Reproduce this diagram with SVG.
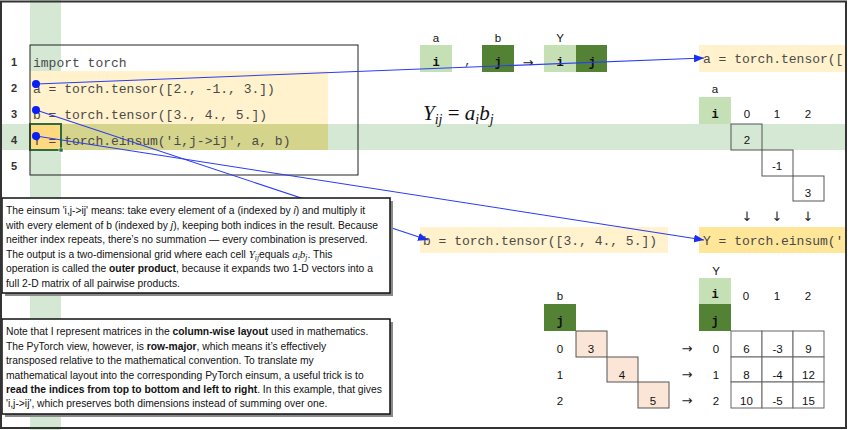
<svg xmlns="http://www.w3.org/2000/svg" width="848" height="430" viewBox="0 0 848 430">
<style>
.code{font-family:"Liberation Mono",monospace;font-size:13px;fill:#4a4a4a}
.ln{font-family:"Liberation Sans",Arial,sans-serif;font-size:11px;font-weight:bold;fill:#333;text-anchor:middle}
.lbl{font-family:"Liberation Sans",Arial,sans-serif;font-size:11.5px;fill:#111;text-anchor:middle}
.ar{font-family:"DejaVu Sans",sans-serif;font-size:13px;fill:#222;text-anchor:middle}
.dn{opacity:0.99}
.idx{font-family:"Liberation Mono",monospace;font-size:12px;font-weight:bold;fill:#111;text-anchor:middle}
.cell{fill:#fff;stroke:#666;stroke-width:1}
.peach{fill:#FBE5D6;stroke:#555;stroke-width:1}
.lg{fill:#C5E0B4}
.dg{fill:#548235}
.tb{font-family:"Liberation Sans",Arial,sans-serif;font-size:10.3px;fill:#111}
.b{font-weight:bold}
.it{font-style:italic}
.m{font-family:"Liberation Serif",serif;font-style:italic;font-size:11px}
.ms{font-family:"Liberation Serif",serif;font-style:italic;font-size:7.5px}
.conn{stroke:#2a3cf5;stroke-width:1.1;fill:none}
.box{fill:#fff;stroke:#111;stroke-width:1.5}
.shadow{fill:#8a8a8a}
</style>
<defs>
<marker id="arr" markerUnits="userSpaceOnUse" markerWidth="10" markerHeight="8" refX="10" refY="4" orient="auto">
<path d="M0,0 L10,4 L0,8 z" fill="#1a2ff0"/>
</marker>
</defs>
<rect x="0" y="0" width="848" height="430" fill="#fff"/>
<g id="bands">
<rect x="30" y="0" width="31" height="430" fill="#D5E8D4"/>
<rect x="0" y="124" width="846" height="26" fill="#D5E8D4"/>
</g>
<g id="code">
<rect x="30" y="71" width="298" height="53" fill="#FFF2CC"/>
<rect x="30" y="124" width="298" height="26" fill="#D5D48C"/>
<rect x="30" y="124" width="31" height="26" fill="#FFD97F" stroke="#2E6B3E" stroke-width="2"/>
<rect x="59" y="148" width="4" height="4" fill="#2E6B3E" stroke="#fff" stroke-width="0.6"/>
<rect x="30" y="45" width="328" height="130" fill="none" stroke="#222" stroke-width="1"/>
<text class="ln" x="14" y="66">1</text>
<text class="ln" x="14" y="92">2</text>
<text class="ln" x="14" y="118">3</text>
<text class="ln" x="14" y="144">4</text>
<text class="ln" x="14" y="170">5</text>
<text class="code" x="33" y="66.5">import torch</text>
<text class="code" x="33" y="92.5">a = torch.tensor([2., -1., 3.])</text>
<text class="code" x="33" y="118.5">b = torch.tensor([3., 4., 5.])</text>
<text class="code" x="33" y="144.5">Y = torch.einsum('i,j-&gt;ij', a, b)</text>
</g>
<g id="signature">
<text class="lbl" x="436" y="42">a</text>
<rect class="lg" x="420" y="45" width="32" height="27"/>
<text class="idx" x="436" y="66">i</text>
<text class="code" x="464" y="65" fill="#111">,</text>
<text class="lbl" x="498" y="42">b</text>
<rect class="dg" x="482" y="45" width="32" height="27"/>
<text class="idx" x="498" y="66">j</text>
<text class="ar" x="528" y="67">→</text>
<text class="lbl" x="560" y="42">Y</text>
<rect class="lg" x="544" y="45" width="32" height="27"/>
<rect class="dg" x="576" y="45" width="31" height="27"/>
<text class="idx" x="560" y="66">i</text>
<text class="idx" x="592" y="66">j</text>
</g>
<g id="formula">
<text x="423" y="120" font-family="Liberation Serif,serif" font-size="21" fill="#111"><tspan font-style="italic">Y</tspan><tspan font-style="italic" font-size="14" dy="4">ij</tspan><tspan dy="-4"> = </tspan><tspan font-style="italic">a</tspan><tspan font-style="italic" font-size="14" dy="4">i</tspan><tspan font-style="italic" dy="-4">b</tspan><tspan font-style="italic" font-size="14" dy="4">j</tspan></text>
</g>
<g id="snippet-a">
<rect x="699" y="45" width="147" height="27" fill="#FFF2CC"/>
<text class="code" x="703" y="63">a = torch.tensor([</text>
</g>
<g id="snippet-b">
<rect x="420" y="227" width="248" height="26" fill="#FFF2CC"/>
<text class="code" x="423" y="245">b = torch.tensor([3., 4., 5.])</text>
</g>
<g id="snippet-y">
<rect x="699" y="227" width="147" height="26" fill="#FFE699"/>
<text class="code" x="703" y="245">Y = torch.einsum('</text>
</g>
<g id="grid-a">
<text class="lbl" x="715" y="93">a</text>
<rect class="lg" x="699" y="97" width="32" height="27"/>
<text class="idx" x="715" y="118">i</text>
<text class="lbl" x="747" y="118">0</text>
<text class="lbl" x="777" y="118">1</text>
<text class="lbl" x="808" y="118">2</text>
<rect x="731" y="124" width="31" height="26" fill="none" stroke="#555"/>
<rect x="762" y="150" width="31" height="26" fill="none" stroke="#555"/>
<rect x="793" y="176" width="31" height="25" fill="none" stroke="#555"/>
<text class="lbl" x="747" y="144">2</text>
<text class="lbl" x="777" y="170">-1</text>
<text class="lbl" x="808" y="197">3</text>
<g class="dn">
<text class="ar" x="747" y="221">↓</text>
<text class="ar" x="777" y="221">↓</text>
<text class="ar" x="808" y="221">↓</text>
</g>
</g>
<g id="grid-b">
<text class="lbl" x="560" y="300">b</text>
<rect class="dg" x="544" y="304" width="32" height="27"/>
<text class="idx" x="560" y="325">j</text>
<text class="lbl" x="560" y="353">0</text>
<text class="lbl" x="560" y="379">1</text>
<text class="lbl" x="560" y="405">2</text>
<rect class="peach" x="576" y="331" width="31" height="26"/>
<rect class="peach" x="607" y="357" width="31" height="25"/>
<rect class="peach" x="638" y="382" width="31" height="26"/>
<text class="lbl" x="591" y="353">3</text>
<text class="lbl" x="622" y="379">4</text>
<text class="lbl" x="653" y="405">5</text>
<text class="ar" x="687" y="353">→</text>
<text class="ar" x="687" y="379">→</text>
<text class="ar" x="687" y="405">→</text>
</g>
<g id="grid-y">
<text class="lbl" x="716" y="275">Y</text>
<rect class="lg" x="699" y="278" width="32" height="26"/>
<rect class="dg" x="699" y="304" width="32" height="27"/>
<text class="idx" x="715" y="298">i</text>
<text class="idx" x="715" y="325">j</text>
<text class="lbl" x="746" y="300">0</text>
<text class="lbl" x="777" y="300">1</text>
<text class="lbl" x="808" y="300">2</text>
<text class="lbl" x="716" y="353">0</text>
<text class="lbl" x="716" y="379">1</text>
<text class="lbl" x="716" y="405">2</text>
<rect class="cell" x="731" y="331" width="31" height="26"/>
<rect class="cell" x="762" y="331" width="31" height="26"/>
<rect class="cell" x="793" y="331" width="31" height="26"/>
<rect class="cell" x="731" y="357" width="31" height="25"/>
<rect class="cell" x="762" y="357" width="31" height="25"/>
<rect class="cell" x="793" y="357" width="31" height="25"/>
<rect class="cell" x="731" y="382" width="31" height="26"/>
<rect class="cell" x="762" y="382" width="31" height="26"/>
<rect class="cell" x="793" y="382" width="31" height="26"/>
<text class="lbl" x="746.5" y="353">6</text>
<text class="lbl" x="777.5" y="353">-3</text>
<text class="lbl" x="808.5" y="353">9</text>
<text class="lbl" x="746.5" y="379">8</text>
<text class="lbl" x="777.5" y="379">-4</text>
<text class="lbl" x="808.5" y="379">12</text>
<text class="lbl" x="746.5" y="405">10</text>
<text class="lbl" x="777.5" y="405">-5</text>
<text class="lbl" x="808.5" y="405">15</text>
</g>
<g id="connectors">
<line class="conn" x1="36" y1="84" x2="704" y2="58" marker-end="url(#arr)"/>
<line class="conn" x1="36" y1="110" x2="428" y2="240" marker-end="url(#arr)"/>
<line class="conn" x1="36" y1="136" x2="704" y2="240" marker-end="url(#arr)"/>
<circle cx="36" cy="84" r="4" fill="#0a1ff5"/>
<circle cx="36" cy="110" r="4" fill="#0a1ff5"/>
<circle cx="36" cy="136" r="4" fill="#0a1ff5"/>
</g>
<g id="note-einsum">
<rect class="shadow" x="5" y="201" width="388" height="95"/>
<rect class="box" x="2" y="198" width="388" height="95"/>
<text class="tb" x="6" y="214">The einsum 'i,j-&gt;ij' means: take every element of a (indexed by <tspan class="it">i</tspan>) and multiply it</text>
<text class="tb" x="6" y="228.5">with every element of b (indexed by <tspan class="it">j</tspan>), keeping both indices in the result. Because</text>
<text class="tb" x="6" y="243">neither index repeats, there’s no summation — every combination is preserved.</text>
<text class="tb" x="6" y="257.5">The output is a two-dimensional grid where each cell <tspan class="m">Y</tspan><tspan class="ms" dy="2.5">ij</tspan><tspan dy="-2.5">equals </tspan><tspan class="m">a</tspan><tspan class="ms" dy="2.5">i</tspan><tspan class="m" dy="-2.5">b</tspan><tspan class="ms" dy="2.5">j</tspan><tspan dy="-2.5">. This</tspan></text>
<text class="tb" x="6" y="272">operation is called the <tspan class="b">outer product</tspan>, because it expands two 1-D vectors into a</text>
<text class="tb" x="6" y="286.5">full 2-D matrix of all pairwise products.</text>
</g>
<g id="note-layout">
<rect class="shadow" x="5" y="322" width="388" height="95"/>
<rect class="box" x="2" y="319" width="388" height="95"/>
<text class="tb" x="6" y="335">Note that I represent matrices in the <tspan class="b">column-wise layout</tspan> used in mathematics.</text>
<text class="tb" x="6" y="349.5">The PyTorch view, however, is <tspan class="b">row-major</tspan>, which means it’s effectively</text>
<text class="tb" x="6" y="364">transposed relative to the mathematical convention. To translate my</text>
<text class="tb" x="6" y="378.5">mathematical layout into the corresponding PyTorch einsum, a useful trick is to</text>
<text class="tb" x="6" y="393"><tspan class="b">read the indices from top to bottom and left to right</tspan>. In this example, that gives</text>
<text class="tb" x="6" y="407">'i,j-&gt;ij', which preserves both dimensions instead of summing over one.</text>
</g>
<rect x="1" y="1.5" width="845" height="426.5" fill="none" stroke="#333" stroke-width="2"/>
</svg>
